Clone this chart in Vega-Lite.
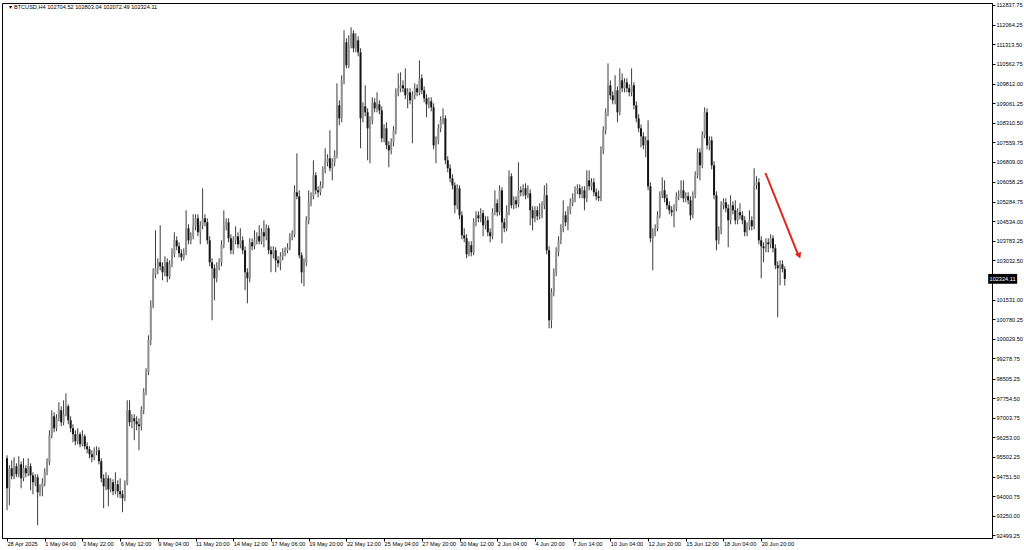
{
"$schema": "https://vega.github.io/schema/vega-lite/v6.json",
"width": 990, "height": 535,
"autosize": {"type": "none"},
"padding": {"left": 2, "top": 3, "right": 32, "bottom": 12},
"background": "white",
"config": {"view": {"stroke": "#000", "strokeWidth": 1}, "font": "Liberation Sans", "axis": {"labelOverlap": false, "labelBound": false, "labelFlush": false}},
"data": {"values": [
{"i":0,"o":95451,"h":95566,"l":93459,"c":94302},
{"i":1,"o":94302,"h":95183,"l":93650,"c":95068},
{"i":2,"o":95068,"h":95375,"l":94647,"c":94762},
{"i":3,"o":94762,"h":95490,"l":94647,"c":95145},
{"i":4,"o":95145,"h":95260,"l":94723,"c":94838},
{"i":5,"o":94838,"h":95528,"l":94723,"c":95221},
{"i":6,"o":95221,"h":95336,"l":94302,"c":94685},
{"i":7,"o":94685,"h":95451,"l":94570,"c":95068},
{"i":8,"o":95068,"h":95183,"l":94723,"c":94877},
{"i":9,"o":94877,"h":95451,"l":94762,"c":95145},
{"i":10,"o":95145,"h":95260,"l":94225,"c":94800},
{"i":11,"o":94800,"h":94915,"l":94072,"c":94532},
{"i":12,"o":94532,"h":94838,"l":94378,"c":94723},
{"i":13,"o":94723,"h":94838,"l":92884,"c":94149},
{"i":14,"o":94149,"h":94455,"l":93995,"c":94340},
{"i":15,"o":94340,"h":94685,"l":93995,"c":94493},
{"i":16,"o":94493,"h":95068,"l":94378,"c":94915},
{"i":17,"o":94915,"h":95451,"l":94800,"c":95298},
{"i":18,"o":95298,"h":96524,"l":95183,"c":96333},
{"i":19,"o":96333,"h":97291,"l":96218,"c":97061},
{"i":20,"o":97061,"h":97214,"l":96448,"c":96601},
{"i":21,"o":96601,"h":97138,"l":96486,"c":96984},
{"i":22,"o":96984,"h":97597,"l":96869,"c":97291},
{"i":23,"o":97291,"h":97444,"l":96678,"c":96831},
{"i":24,"o":96831,"h":97674,"l":96716,"c":97138},
{"i":25,"o":97138,"h":97942,"l":97061,"c":97444},
{"i":26,"o":97444,"h":97521,"l":96754,"c":96908},
{"i":27,"o":96908,"h":97061,"l":96448,"c":96601},
{"i":28,"o":96601,"h":96754,"l":96065,"c":96371},
{"i":29,"o":96371,"h":96524,"l":95950,"c":96103},
{"i":30,"o":96103,"h":96601,"l":95988,"c":96371},
{"i":31,"o":96371,"h":96448,"l":95873,"c":95988},
{"i":32,"o":95988,"h":96524,"l":95911,"c":96294},
{"i":33,"o":96294,"h":96371,"l":95796,"c":95911},
{"i":34,"o":95911,"h":96065,"l":95643,"c":95796},
{"i":35,"o":95796,"h":95911,"l":95451,"c":95605},
{"i":36,"o":95605,"h":95758,"l":95298,"c":95490},
{"i":37,"o":95490,"h":95873,"l":95375,"c":95720},
{"i":38,"o":95720,"h":95911,"l":95566,"c":95758},
{"i":39,"o":95758,"h":95873,"l":95221,"c":95336},
{"i":40,"o":95336,"h":95451,"l":94532,"c":94685},
{"i":41,"o":94685,"h":94838,"l":93535,"c":94378},
{"i":42,"o":94378,"h":94915,"l":94225,"c":94685},
{"i":43,"o":94685,"h":94800,"l":93612,"c":94263},
{"i":44,"o":94263,"h":94685,"l":94149,"c":94532},
{"i":45,"o":94532,"h":94647,"l":94034,"c":94187},
{"i":46,"o":94187,"h":94915,"l":94072,"c":94455},
{"i":47,"o":94455,"h":94608,"l":93957,"c":94187},
{"i":48,"o":94187,"h":94685,"l":93919,"c":94072},
{"i":49,"o":94072,"h":94225,"l":93382,"c":93919},
{"i":50,"o":93919,"h":94608,"l":93804,"c":94493},
{"i":51,"o":94493,"h":97674,"l":94417,"c":97291},
{"i":52,"o":97291,"h":97674,"l":96678,"c":96831},
{"i":53,"o":96831,"h":97138,"l":96601,"c":96984},
{"i":54,"o":96984,"h":97138,"l":96141,"c":96869},
{"i":55,"o":96869,"h":97061,"l":96524,"c":96754},
{"i":56,"o":96754,"h":96984,"l":95758,"c":96678},
{"i":57,"o":96678,"h":97444,"l":96524,"c":97291},
{"i":58,"o":97291,"h":98134,"l":97138,"c":97981},
{"i":59,"o":97981,"h":98900,"l":97866,"c":98747},
{"i":60,"o":98747,"h":100165,"l":98632,"c":99973},
{"i":61,"o":99973,"h":101506,"l":99782,"c":101314},
{"i":62,"o":101314,"h":102732,"l":101200,"c":102502},
{"i":63,"o":102502,"h":104188,"l":102349,"c":102732},
{"i":64,"o":102732,"h":103115,"l":102502,"c":102962},
{"i":65,"o":102962,"h":104380,"l":102656,"c":102809},
{"i":66,"o":102809,"h":102962,"l":102272,"c":102579},
{"i":67,"o":102579,"h":103192,"l":102426,"c":102962},
{"i":68,"o":102962,"h":103115,"l":102196,"c":102426},
{"i":69,"o":102426,"h":103039,"l":102311,"c":102886},
{"i":70,"o":102886,"h":103499,"l":102771,"c":103269},
{"i":71,"o":103269,"h":104112,"l":103154,"c":103805},
{"i":72,"o":103805,"h":103958,"l":103422,"c":103575},
{"i":73,"o":103575,"h":103729,"l":103154,"c":103307},
{"i":74,"o":103307,"h":103460,"l":103000,"c":103154},
{"i":75,"o":103154,"h":103499,"l":103039,"c":103345},
{"i":76,"o":103345,"h":104955,"l":103230,"c":104265},
{"i":77,"o":104265,"h":104418,"l":103652,"c":103805},
{"i":78,"o":103805,"h":104112,"l":103652,"c":103958},
{"i":79,"o":103958,"h":104801,"l":103843,"c":104342},
{"i":80,"o":104342,"h":104801,"l":104188,"c":104648},
{"i":81,"o":104648,"h":104801,"l":103958,"c":104112},
{"i":82,"o":104112,"h":104533,"l":103652,"c":104380},
{"i":83,"o":104380,"h":105798,"l":104227,"c":104648},
{"i":84,"o":104648,"h":104801,"l":104342,"c":104495},
{"i":85,"o":104495,"h":104648,"l":103652,"c":103805},
{"i":86,"o":103805,"h":103958,"l":102809,"c":102962},
{"i":87,"o":102962,"h":103115,"l":100740,"c":102732},
{"i":88,"o":102732,"h":102886,"l":101506,"c":102349},
{"i":89,"o":102349,"h":102962,"l":102196,"c":102809},
{"i":90,"o":102809,"h":103115,"l":102656,"c":102962},
{"i":91,"o":102962,"h":103805,"l":102809,"c":103652},
{"i":92,"o":103652,"h":104955,"l":103499,"c":104380},
{"i":93,"o":104380,"h":104648,"l":104188,"c":104495},
{"i":94,"o":104495,"h":104648,"l":103729,"c":103882},
{"i":95,"o":103882,"h":104035,"l":103269,"c":103422},
{"i":96,"o":103422,"h":103958,"l":103269,"c":103805},
{"i":97,"o":103805,"h":104342,"l":103652,"c":103958},
{"i":98,"o":103958,"h":104112,"l":103499,"c":103652},
{"i":99,"o":103652,"h":104265,"l":103499,"c":103805},
{"i":100,"o":103805,"h":103958,"l":103269,"c":103422},
{"i":101,"o":103422,"h":103575,"l":101889,"c":102579},
{"i":102,"o":102579,"h":102732,"l":101391,"c":102349},
{"i":103,"o":102349,"h":103882,"l":102196,"c":103729},
{"i":104,"o":103729,"h":103882,"l":103422,"c":103575},
{"i":105,"o":103575,"h":104188,"l":103460,"c":103805},
{"i":106,"o":103805,"h":104112,"l":103652,"c":103958},
{"i":107,"o":103958,"h":104380,"l":103652,"c":103767},
{"i":108,"o":103767,"h":104265,"l":103652,"c":104112},
{"i":109,"o":104112,"h":104572,"l":103537,"c":103958},
{"i":110,"o":103958,"h":104418,"l":103805,"c":104265},
{"i":111,"o":104265,"h":104380,"l":103269,"c":103422},
{"i":112,"o":103422,"h":103575,"l":102579,"c":103269},
{"i":113,"o":103269,"h":103575,"l":103115,"c":103422},
{"i":114,"o":103422,"h":103537,"l":102579,"c":103039},
{"i":115,"o":103039,"h":103192,"l":102771,"c":102924},
{"i":116,"o":102924,"h":103345,"l":102656,"c":103192},
{"i":117,"o":103192,"h":103499,"l":103039,"c":103345},
{"i":118,"o":103345,"h":103537,"l":103192,"c":103422},
{"i":119,"o":103422,"h":103690,"l":103307,"c":103537},
{"i":120,"o":103537,"h":104073,"l":103422,"c":103920},
{"i":121,"o":103920,"h":104188,"l":103805,"c":104035},
{"i":122,"o":104035,"h":105913,"l":103920,"c":105645},
{"i":123,"o":105645,"h":107139,"l":105376,"c":105491},
{"i":124,"o":105491,"h":105721,"l":103115,"c":103230},
{"i":125,"o":103230,"h":103345,"l":102157,"c":102579},
{"i":126,"o":102579,"h":103115,"l":102042,"c":102962},
{"i":127,"o":102962,"h":104725,"l":102809,"c":104572},
{"i":128,"o":104572,"h":105721,"l":104418,"c":105261},
{"i":129,"o":105261,"h":105645,"l":105108,"c":105491},
{"i":130,"o":105491,"h":106871,"l":105376,"c":106296},
{"i":131,"o":106296,"h":106411,"l":105568,"c":105721},
{"i":132,"o":105721,"h":105874,"l":105453,"c":105645},
{"i":133,"o":105645,"h":106066,"l":105530,"c":105913},
{"i":134,"o":105913,"h":106641,"l":105798,"c":106488},
{"i":135,"o":106488,"h":107331,"l":106373,"c":106794},
{"i":136,"o":106794,"h":107101,"l":106641,"c":106947},
{"i":137,"o":106947,"h":108020,"l":106449,"c":106564},
{"i":138,"o":106564,"h":106947,"l":106104,"c":106794},
{"i":139,"o":106794,"h":107254,"l":106641,"c":107062},
{"i":140,"o":107062,"h":109821,"l":106947,"c":108978},
{"i":141,"o":108978,"h":109170,"l":108212,"c":108480},
{"i":142,"o":108480,"h":110128,"l":108327,"c":109936},
{"i":143,"o":109936,"h":111852,"l":109783,"c":111393},
{"i":144,"o":111393,"h":111546,"l":110396,"c":110511},
{"i":145,"o":110511,"h":111661,"l":110396,"c":111278},
{"i":146,"o":111278,"h":111967,"l":111163,"c":111737},
{"i":147,"o":111737,"h":111852,"l":111009,"c":111163},
{"i":148,"o":111163,"h":111737,"l":111009,"c":111469},
{"i":149,"o":111469,"h":111623,"l":110856,"c":111009},
{"i":150,"o":111009,"h":111163,"l":107331,"c":108480},
{"i":151,"o":108480,"h":109093,"l":108327,"c":108940},
{"i":152,"o":108940,"h":109745,"l":108557,"c":108710},
{"i":153,"o":108710,"h":108863,"l":106871,"c":108097},
{"i":154,"o":108097,"h":108557,"l":106756,"c":108404},
{"i":155,"o":108404,"h":109285,"l":108250,"c":109093},
{"i":156,"o":109093,"h":109247,"l":108710,"c":108863},
{"i":157,"o":108863,"h":109477,"l":108710,"c":109017},
{"i":158,"o":109017,"h":109170,"l":108634,"c":108787},
{"i":159,"o":108787,"h":108940,"l":107561,"c":107714},
{"i":160,"o":107714,"h":108250,"l":107561,"c":108097},
{"i":161,"o":108097,"h":108327,"l":107292,"c":107446},
{"i":162,"o":107446,"h":107599,"l":106603,"c":107254},
{"i":163,"o":107254,"h":107714,"l":107101,"c":107561},
{"i":164,"o":107561,"h":108174,"l":107407,"c":108020},
{"i":165,"o":108020,"h":109630,"l":107867,"c":109477},
{"i":166,"o":109477,"h":110205,"l":109323,"c":109630},
{"i":167,"o":109630,"h":110243,"l":109477,"c":109745},
{"i":168,"o":109745,"h":109936,"l":109477,"c":109630},
{"i":169,"o":109630,"h":110396,"l":109208,"c":109362},
{"i":170,"o":109362,"h":109630,"l":108863,"c":109477},
{"i":171,"o":109477,"h":109630,"l":109017,"c":109170},
{"i":172,"o":109170,"h":109515,"l":107522,"c":109362},
{"i":173,"o":109362,"h":109821,"l":109208,"c":109630},
{"i":174,"o":109630,"h":109783,"l":109323,"c":109477},
{"i":175,"o":109477,"h":110703,"l":109362,"c":110013},
{"i":176,"o":110013,"h":110166,"l":109400,"c":109553},
{"i":177,"o":109553,"h":109706,"l":109093,"c":109247},
{"i":178,"o":109247,"h":109400,"l":108519,"c":109017},
{"i":179,"o":109017,"h":109285,"l":108863,"c":109132},
{"i":180,"o":109132,"h":109285,"l":108748,"c":108902},
{"i":181,"o":108902,"h":109055,"l":107292,"c":107446},
{"i":182,"o":107446,"h":107790,"l":106756,"c":107637},
{"i":183,"o":107637,"h":108250,"l":107484,"c":108097},
{"i":184,"o":108097,"h":108557,"l":107944,"c":108404},
{"i":185,"o":108404,"h":108863,"l":108250,"c":108480},
{"i":186,"o":108480,"h":108595,"l":106718,"c":106871},
{"i":187,"o":106871,"h":107024,"l":106411,"c":106564},
{"i":188,"o":106564,"h":106718,"l":106028,"c":106181},
{"i":189,"o":106181,"h":106334,"l":105759,"c":105913},
{"i":190,"o":105913,"h":106028,"l":104840,"c":105146},
{"i":191,"o":105146,"h":105951,"l":104993,"c":105798},
{"i":192,"o":105798,"h":105913,"l":104610,"c":104763},
{"i":193,"o":104763,"h":104916,"l":103843,"c":103997},
{"i":194,"o":103997,"h":104265,"l":103729,"c":103882},
{"i":195,"o":103882,"h":104035,"l":103115,"c":103269},
{"i":196,"o":103269,"h":103767,"l":103192,"c":103614},
{"i":197,"o":103614,"h":103767,"l":103192,"c":103345},
{"i":198,"o":103345,"h":104648,"l":103230,"c":104495},
{"i":199,"o":104495,"h":104916,"l":104342,"c":104763},
{"i":200,"o":104763,"h":104916,"l":104495,"c":104648},
{"i":201,"o":104648,"h":105031,"l":104495,"c":104840},
{"i":202,"o":104840,"h":104955,"l":103958,"c":104380},
{"i":203,"o":104380,"h":104725,"l":104227,"c":104572},
{"i":204,"o":104572,"h":104725,"l":103958,"c":104112},
{"i":205,"o":104112,"h":104265,"l":103729,"c":103958},
{"i":206,"o":103958,"h":105031,"l":103843,"c":104878},
{"i":207,"o":104878,"h":105721,"l":104763,"c":105223},
{"i":208,"o":105223,"h":105376,"l":104725,"c":104878},
{"i":209,"o":104878,"h":105913,"l":104763,"c":105721},
{"i":210,"o":105721,"h":105836,"l":103690,"c":104495},
{"i":211,"o":104495,"h":104648,"l":104112,"c":104265},
{"i":212,"o":104265,"h":105146,"l":104150,"c":104878},
{"i":213,"o":104878,"h":106488,"l":104763,"c":106258},
{"i":214,"o":106258,"h":106373,"l":105031,"c":105146},
{"i":215,"o":105146,"h":105491,"l":104993,"c":105338},
{"i":216,"o":105338,"h":105491,"l":105031,"c":105185},
{"i":217,"o":105185,"h":106794,"l":105070,"c":105721},
{"i":218,"o":105721,"h":105874,"l":105491,"c":105645},
{"i":219,"o":105645,"h":105951,"l":105491,"c":105798},
{"i":220,"o":105798,"h":105989,"l":105376,"c":105530},
{"i":221,"o":105530,"h":105913,"l":105415,"c":105606},
{"i":222,"o":105606,"h":105759,"l":104380,"c":104955},
{"i":223,"o":104955,"h":105108,"l":104188,"c":104648},
{"i":224,"o":104648,"h":105108,"l":104495,"c":104955},
{"i":225,"o":104955,"h":105108,"l":104572,"c":104725},
{"i":226,"o":104725,"h":105223,"l":104610,"c":104763},
{"i":227,"o":104763,"h":105300,"l":104648,"c":105146},
{"i":228,"o":105146,"h":105913,"l":104993,"c":105530},
{"i":229,"o":105530,"h":105989,"l":103269,"c":103422},
{"i":230,"o":103422,"h":103575,"l":100433,"c":100740},
{"i":231,"o":100740,"h":101966,"l":100433,"c":101813},
{"i":232,"o":101813,"h":102732,"l":101659,"c":102579},
{"i":233,"o":102579,"h":103537,"l":102426,"c":103345},
{"i":234,"o":103345,"h":103958,"l":103192,"c":103805},
{"i":235,"o":103805,"h":104418,"l":103652,"c":104265},
{"i":236,"o":104265,"h":105338,"l":104112,"c":104763},
{"i":237,"o":104763,"h":104916,"l":104342,"c":104495},
{"i":238,"o":104495,"h":105108,"l":104188,"c":104955},
{"i":239,"o":104955,"h":105415,"l":104801,"c":105261},
{"i":240,"o":105261,"h":105606,"l":105108,"c":105415},
{"i":241,"o":105415,"h":105874,"l":105261,"c":105721},
{"i":242,"o":105721,"h":105951,"l":105568,"c":105798},
{"i":243,"o":105798,"h":105951,"l":105415,"c":105568},
{"i":244,"o":105568,"h":105874,"l":105415,"c":105721},
{"i":245,"o":105721,"h":105874,"l":104955,"c":105415},
{"i":246,"o":105415,"h":106488,"l":105261,"c":106104},
{"i":247,"o":106104,"h":106488,"l":105721,"c":105874},
{"i":248,"o":105874,"h":106181,"l":105721,"c":106028},
{"i":249,"o":106028,"h":106181,"l":105491,"c":105645},
{"i":250,"o":105645,"h":105798,"l":105338,"c":105491},
{"i":251,"o":105491,"h":105721,"l":105300,"c":105415},
{"i":252,"o":105415,"h":107407,"l":105300,"c":107254},
{"i":253,"o":107254,"h":108174,"l":107101,"c":108020},
{"i":254,"o":108020,"h":108863,"l":107867,"c":108710},
{"i":255,"o":108710,"h":110588,"l":108557,"c":109745},
{"i":256,"o":109745,"h":109936,"l":109208,"c":109362},
{"i":257,"o":109362,"h":109515,"l":109017,"c":109170},
{"i":258,"o":109170,"h":110128,"l":109017,"c":109553},
{"i":259,"o":109553,"h":109706,"l":108327,"c":108710},
{"i":260,"o":108710,"h":110396,"l":108595,"c":109936},
{"i":261,"o":109936,"h":110205,"l":109477,"c":109630},
{"i":262,"o":109630,"h":110013,"l":109477,"c":109860},
{"i":263,"o":109860,"h":110013,"l":109477,"c":109630},
{"i":264,"o":109630,"h":109783,"l":109323,"c":109477},
{"i":265,"o":109477,"h":110396,"l":109323,"c":109745},
{"i":266,"o":109745,"h":109860,"l":108825,"c":108978},
{"i":267,"o":108978,"h":109132,"l":108327,"c":108480},
{"i":268,"o":108480,"h":108634,"l":107944,"c":108097},
{"i":269,"o":108097,"h":108250,"l":107369,"c":107790},
{"i":270,"o":107790,"h":107944,"l":107292,"c":107446},
{"i":271,"o":107446,"h":107790,"l":106986,"c":107637},
{"i":272,"o":107637,"h":108404,"l":105721,"c":105874},
{"i":273,"o":105874,"h":106028,"l":103729,"c":103882},
{"i":274,"o":103882,"h":104265,"l":102656,"c":104112},
{"i":275,"o":104112,"h":104418,"l":103958,"c":104265},
{"i":276,"o":104265,"h":104916,"l":104150,"c":104763},
{"i":277,"o":104763,"h":105683,"l":104648,"c":105530},
{"i":278,"o":105530,"h":106219,"l":105415,"c":105721},
{"i":279,"o":105721,"h":106104,"l":105261,"c":105415},
{"i":280,"o":105415,"h":105568,"l":104993,"c":105146},
{"i":281,"o":105146,"h":105300,"l":104801,"c":104955},
{"i":282,"o":104955,"h":105108,"l":104725,"c":104878},
{"i":283,"o":104878,"h":105185,"l":104303,"c":105031},
{"i":284,"o":105031,"h":105645,"l":104916,"c":105491},
{"i":285,"o":105491,"h":105721,"l":105338,"c":105568},
{"i":286,"o":105568,"h":106104,"l":105415,"c":105721},
{"i":287,"o":105721,"h":106104,"l":105261,"c":105415},
{"i":288,"o":105415,"h":105645,"l":105261,"c":105491},
{"i":289,"o":105491,"h":105645,"l":105185,"c":105338},
{"i":290,"o":105338,"h":105491,"l":104572,"c":104763},
{"i":291,"o":104763,"h":105683,"l":104648,"c":105530},
{"i":292,"o":105530,"h":106449,"l":105415,"c":106296},
{"i":293,"o":106296,"h":107331,"l":106181,"c":107177},
{"i":294,"o":107177,"h":107331,"l":106104,"c":106679},
{"i":295,"o":106679,"h":107982,"l":106564,"c":107829},
{"i":296,"o":107829,"h":108902,"l":107714,"c":108710},
{"i":297,"o":108710,"h":108863,"l":107292,"c":107446},
{"i":298,"o":107446,"h":107790,"l":107254,"c":107637},
{"i":299,"o":107637,"h":107790,"l":106526,"c":106679},
{"i":300,"o":106679,"h":106833,"l":105376,"c":105530},
{"i":301,"o":105530,"h":105683,"l":103422,"c":103805},
{"i":302,"o":103805,"h":104342,"l":103652,"c":104188},
{"i":303,"o":104188,"h":105300,"l":104035,"c":105146},
{"i":304,"o":105146,"h":105415,"l":104993,"c":105261},
{"i":305,"o":105261,"h":105415,"l":104878,"c":105031},
{"i":306,"o":105031,"h":105185,"l":103537,"c":104572},
{"i":307,"o":104572,"h":105530,"l":104418,"c":105146},
{"i":308,"o":105146,"h":105300,"l":104801,"c":104955},
{"i":309,"o":104955,"h":105338,"l":104418,"c":104572},
{"i":310,"o":104572,"h":105031,"l":104418,"c":104878},
{"i":311,"o":104878,"h":105223,"l":104610,"c":104763},
{"i":312,"o":104763,"h":104916,"l":104418,"c":104572},
{"i":313,"o":104572,"h":104725,"l":103958,"c":104112},
{"i":314,"o":104112,"h":104495,"l":103958,"c":104342},
{"i":315,"o":104342,"h":104955,"l":104188,"c":104572},
{"i":316,"o":104572,"h":104725,"l":104188,"c":104342},
{"i":317,"o":104342,"h":106564,"l":104227,"c":105913},
{"i":318,"o":105913,"h":106258,"l":105759,"c":106028},
{"i":319,"o":106028,"h":106181,"l":103652,"c":103805},
{"i":320,"o":103805,"h":103958,"l":102349,"c":103575},
{"i":321,"o":103575,"h":103729,"l":102962,"c":103499},
{"i":322,"o":103499,"h":103882,"l":103345,"c":103729},
{"i":323,"o":103729,"h":103882,"l":103345,"c":103652},
{"i":324,"o":103652,"h":104035,"l":103499,"c":103882},
{"i":325,"o":103882,"h":103997,"l":103345,"c":103499},
{"i":326,"o":103499,"h":103652,"l":102694,"c":102847},
{"i":327,"o":102847,"h":103000,"l":100855,"c":102732},
{"i":328,"o":102732,"h":103039,"l":102081,"c":102886},
{"i":329,"o":102886,"h":103039,"l":102579,"c":102704.52},
{"i":330,"o":102704.52,"h":102803.04,"l":102072.49,"c":102324.11}
]},
"layer": [
{
 "mark": {"type": "rule", "color": "#3c3c3c", "strokeWidth": 1, "clip": true},
 "encoding": {
  "x": {"field": "i", "type": "quantitative", "scale": {"domain": [0, 415.8], "nice": false, "zero": false},
   "axis": {"orient": "bottom", "title": null, "grid": false, "tickCount": 40, "values": [0,16,32,48,64,80,96,112,128,144,160,176,192,208,224,240,256,272,288,304,320],
    "labelExpr": "['28 Apr 2025','1 May 04:00','3 May 22:00','6 May 12:00','9 May 04:00','11 May 20:00','14 May 12:00','17 May 06:00','19 May 20:00','22 May 12:00','25 May 04:00','27 May 20:00','30 May 12:00','2 Jun 04:00','4 Jun 20:00','7 Jun 14:00','10 Jun 04:00','12 Jun 20:00','15 Jun 12:00','18 Jun 04:00','20 Jun 20:00'][round(datum.value/16)]",
    "labelAlign": "left", "labelBaseline": "top", "labelFontSize": 5.6, "labelColor": "#000", "labelPadding": 0, "labelFlush": false, "labelOverlap": false, "labelBound": false,
    "tickSize": 3, "tickColor": "#000", "domainColor": "#000"}},
  "y": {"field": "l", "type": "quantitative", "scale": {"domain": [92396, 112899], "nice": false, "zero": false},
   "axis": {"orient": "right", "title": null, "grid": false, "format": ".2f", "tickCount": 60,
    "values": [112837.75,112064.25,111313.5,110562.75,109812,109061.25,108310.5,107559.75,106809,106058.25,105284.75,104534,103783.25,103032.5,101531,100780.25,100029.5,99278.75,98505.25,97754.5,97003.75,96253,95502.25,94751.5,94000.75,93250,92499.25],
    "labelFontSize": 5.6, "labelColor": "#000", "labelPadding": 1, "labelAlign": "left", "labelOverlap": false, "labelBound": false, "labelFlush": false,
    "tickSize": 3, "tickColor": "#000", "domainColor": "#000"}},
  "y2": {"field": "h"}
 }
},
{
 "mark": {"type": "bar", "size": 2, "clip": true},
 "encoding": {
  "x": {"field": "i", "type": "quantitative"},
  "y": {"field": "o", "type": "quantitative"},
  "y2": {"field": "c"},
  "color": {"condition": {"test": "datum.c < datum.o", "value": "#141414"}, "value": "#909090"}
 }
},
{
 "data": {"values": [{"label": "▾ BTCUSD,H4  102704.52 102803.04 102072.49 102324.11"}]},
 "mark": {"type": "text", "align": "left", "baseline": "middle", "fontSize": 5.6, "color": "#000"},
 "encoding": {"x": {"datum": 1.0}, "y": {"datum": 112745}, "text": {"field": "label"}}
},
{
 "data": {"values": [{}]},
 "mark": {"type": "rule", "color": "#e3241c", "strokeWidth": 2},
 "encoding": {"x": {"datum": 321.8}, "y": {"datum": 106384}, "x2": {"datum": 335.6}, "y2": {"datum": 103269}}
},
{
 "data": {"values": [{}]},
 "mark": {"type": "point", "shape": "triangle-down", "filled": true, "color": "#e3241c", "size": 45, "angle": -22.2, "opacity": 1},
 "encoding": {"x": {"datum": 336.1}, "y": {"datum": 103211}}
},
{
 "data": {"values": [{}]},
 "mark": {"type": "rect", "color": "#000", "clip": false},
 "encoding": {"x": {"datum": 416.3}, "x2": {"datum": 428.6}, "y": {"datum": 102516}, "y2": {"datum": 102140}}
},
{
 "data": {"values": [{"label": "102324.11"}]},
 "mark": {"type": "text", "align": "center", "baseline": "middle", "fontSize": 5.6, "color": "#fff", "clip": false},
 "encoding": {"x": {"datum": 422.4}, "y": {"datum": 102324.11}, "text": {"field": "label"}}
}
]
}
